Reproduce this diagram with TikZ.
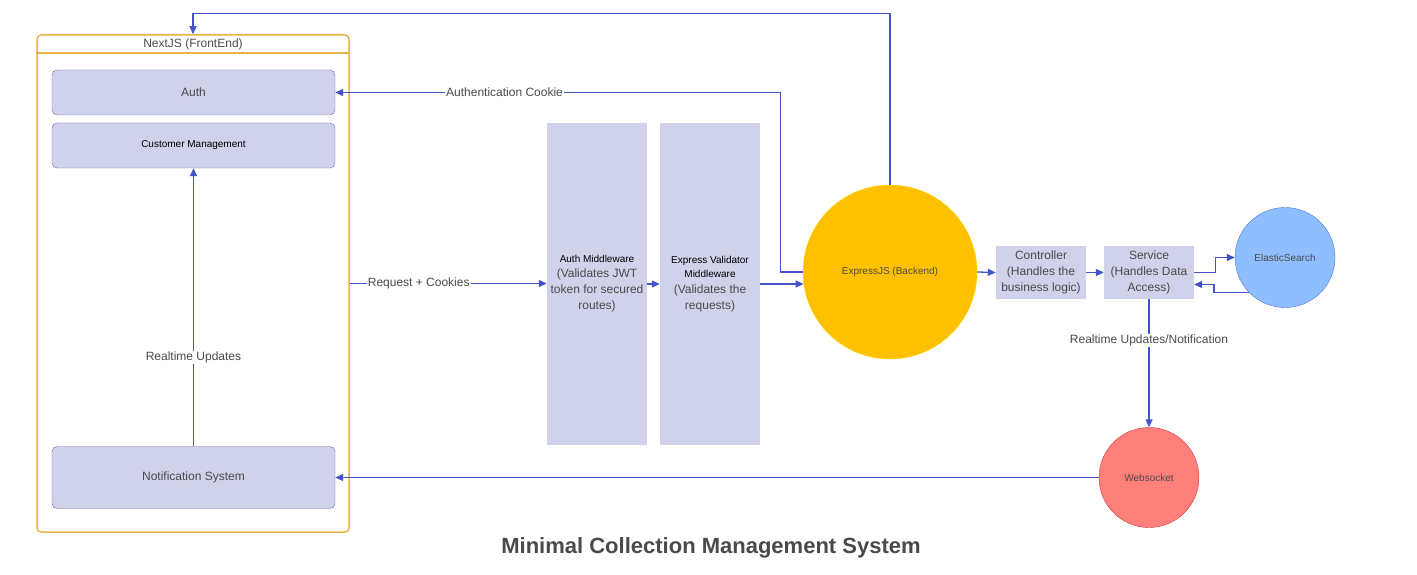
\documentclass[tikz,border=0pt]{standalone}
\usepackage{fontspec}
\setmainfont{Liberation Sans}
\usetikzlibrary{arrows.meta,positioning,calc}
\definecolor{frameorange}{HTML}{E6B34A}
\definecolor{lav}{HTML}{D0D1EB}
\definecolor{boxline}{HTML}{6468A6}
\definecolor{lineblue}{HTML}{4354C6}
\definecolor{txtgray}{HTML}{4A4A4A}
\definecolor{expfill}{HTML}{FFC000}
\definecolor{expline}{HTML}{FFD800}
\definecolor{esfill}{HTML}{8FBEFF}
\definecolor{esline}{HTML}{4C74D9}
\definecolor{wsfill}{HTML}{FF7F7A}
\definecolor{wsline}{HTML}{D03A3A}
\def\normtxt{\fontsize{12}{16}\selectfont}
\def\smalltxt{\fontsize{10}{14}\selectfont}
\def\titletxt{\fontsize{22}{26}\selectfont\bfseries}

\begin{document}
\begin{tikzpicture}[x=1pt,y=-1pt,
  panel/.style={draw=boxline,fill=lav,rounded corners=5pt,minimum width=283pt,inner sep=0pt,text=txtgray,font=\normtxt},
  mid/.style={fill=lav,minimum width=100pt,minimum height=322pt,inner sep=0pt,align=center,text=txtgray,font=\normtxt},
  sbox/.style={fill=lav,minimum width=90pt,minimum height=53pt,inner sep=0pt,align=center,text=txtgray,font=\normtxt},
  ball/.style={circle,inner sep=0pt,text=txtgray,font=\smalltxt},
  conn/.style={draw=lineblue,line width=1.3pt,-{Triangle[length=8pt,width=7pt]}},
  lbl/.style={fill=white,text=txtgray,font=\normtxt,inner sep=1pt}]
\useasboundingbox (0,0) rectangle (1417,575);
\node[draw=frameorange,line width=1.5pt,rounded corners=4pt,minimum width=312pt,minimum height=497pt,inner sep=0pt] (next) at (193,283.5) {};
\draw[frameorange,line width=1.5pt] ($(next.north west)+(0,19)$) -- ($(next.north east)+(0,19)$);
\node[font=\normtxt,text=txtgray] (nexttitle) at (193,44) {NextJS (FrontEnd)};
\node[panel,minimum height=45pt] (auth) at (193.5,92.5) {Auth};
\node[panel,minimum height=45pt,font=\smalltxt,text=black] (cust) at (193.5,145.5) {Customer Management};
\node[panel,minimum height=62pt] (notif) at (193.5,477.5) {Notification System};
\node[mid] (amw) at (597,284) {{\smalltxt\color{black}Auth Middleware}\\[-1pt](Validates JWT\\token for secured\\routes)};
\node[mid] (val) at (710,284) {{\smalltxt\color{black}Express Validator}\\[-2pt]{\smalltxt\color{black}Middleware}\\(Validates the\\requests)};
\node[ball,fill=expfill,draw=expline,minimum size=174pt] (express) at (890,272) {ExpressJS (Backend)};
\node[sbox] (ctrl) at (1041,272.5) {Controller\\(Handles the\\business logic)};
\node[sbox] (svc) at (1149,272.5) {Service\\(Handles Data\\Access)};
\node[ball,fill=esfill,draw=esline,minimum size=100pt] (es) at (1285,257.5) {ElasticSearch};
\node[ball,fill=wsfill,draw=wsline,minimum size=100pt] (ws) at (1149,477.5) {Websocket};
\node[font=\titletxt,text=txtgray] (title) at (711,548) {Minimal Collection Management System};

\draw[conn] (express.north) -- ++(0,-171) -| (next.north);
\draw[conn] (express.west) -- ++(-22,0) |- (auth.east) node[lbl,pos=0.81] {Authentication Cookie};
\draw[conn] (next.east) -- (amw.west |- next.east) node[lbl,pos=0.35] {Request + Cookies};
\draw[conn] (amw.east) -- (val.west);
\draw[conn] (val.east) -- (val.east -| express.188);
\draw[conn] (express.east) -- (ctrl.west);
\draw[conn] (ctrl.east) -- (svc.west);
\draw[conn] (svc.east) -- ++(21,0) |- (es.west);
\draw[conn] (es.224) -- ++(-35,0) |- ($(svc.east)+(0,12)$);
\draw[conn] (svc.south) -- (ws.north) node[lbl,pos=0.32] {Realtime Updates/Notification};
\draw[conn] (ws.west) -- (notif.east);
\draw[conn] (notif.north) -- (cust.south) node[lbl,pos=0.32] {Realtime Updates};
\end{tikzpicture}
\end{document}
